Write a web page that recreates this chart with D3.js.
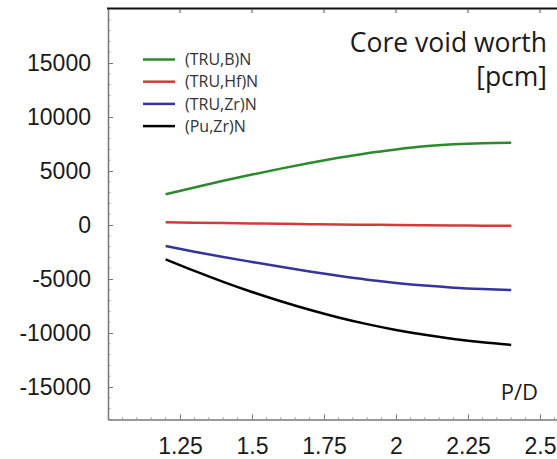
<!DOCTYPE html>
<html lang="en">
<head>
    <meta charset="UTF-8">
    <title>Core void worth vs P/D</title>
    <script src="https://d3js.org/d3.v7.min.js"></script>
    <style>
        body {
            margin: 0;
            overflow: hidden;
            background: #fff;
        }
        svg {
            display: block;
            font-family: "Open Sans", sans-serif;
        }
        .axis text {
            font-size: 23px;
            fill: #1a1a1a;
        }
        .legend text {
            font-size: 16px;
            fill: #333;
        }
        .series {
            fill: none;
            stroke-width: 2.5px;
        }
    </style>
</head>
<body>
<script>
    // P/D values and the four curves
    const pd = [1.2, 1.3, 1.4, 1.5, 1.6, 1.7, 1.8, 1.9, 2.0, 2.1, 2.2, 2.3, 2.4];
    const truB  = [2850, 3480, 4090, 4670, 5220, 5740, 6220, 6650, 7000, 7290, 7470, 7575, 7620];
    const truHf = [250, 215, 180, 145, 110, 80, 50, 25, 0, -20, -40, -60, -80];
    const truZr = [-1950, -2470, -2960, -3420, -3870, -4300, -4700, -5060, -5360, -5610, -5800, -5930, -6020];
    const puZr  = [-3180, -4250, -5260, -6200, -7060, -7850, -8560, -9180, -9720, -10170, -10550, -10860, -11100];

    const seriesNames  = ["(TRU,B)N", "(TRU,Hf)N", "(TRU,Zr)N", "(Pu,Zr)N"];
    const seriesColors = ["#2b8a2b", "#d43a3a", "#34349a", "#000000"];
    const seriesValues = [truB, truHf, truZr, puZr];

    const xTicks = [1.25, 1.5, 1.75, 2, 2.25, 2.5];
    const yTicks = [-15000, -10000, -5000, 0, 5000, 10000, 15000];

    const width = 557;
    const height = 459;

    const svg = d3.select("body")
        .append("svg")
        .attr("width", width)
        .attr("height", height);

    // plot area runs past the right edge of the picture
    const x = d3.scaleLinear().domain([1, 2.6]).range([108, 568.8]);
    const y = d3.scaleLinear().domain([-18000, 20000]).range([419.4, 9]);

    const plotLeft = x(1), plotBottom = y(-18000), plotTop = y(20000);

    // plain hyphen for negatives, like the original
    const fmtY = d => String(d);

    // minor ticks
    const minorX = d3.range(1.05, 2.6, 0.05).filter(v => Math.abs(v * 4 - Math.round(v * 4)) > 1e-6);
    const minorY = d3.range(-18000, 20001, 1000).filter(v => v % 5000 !== 0);

    svg.append("g")
        .selectAll("line")
        .data(minorX)
        .join("line")
        .attr("x1", d => x(d)).attr("x2", d => x(d))
        .attr("y1", plotBottom).attr("y2", plotBottom - 2.5)
        .attr("stroke", "#aaa");

    svg.append("g")
        .selectAll("line")
        .data(minorY)
        .join("line")
        .attr("x1", plotLeft).attr("x2", plotLeft + 2.5)
        .attr("y1", d => y(d)).attr("y2", d => y(d))
        .attr("stroke", "#aaa");

    // bottom axis, ticks pointing inward
    const xAxis = svg.append("g")
        .attr("class", "axis")
        .attr("transform", `translate(0,${plotBottom})`)
        .call(d3.axisBottom(x).tickValues(xTicks).tickSize(-5).tickSizeOuter(0).tickPadding(18)
            .tickFormat(d3.format("")));
    xAxis.select(".domain").attr("stroke", "#777").attr("stroke-width", 1.5);
    xAxis.selectAll(".tick line").attr("stroke", "#777");

    // left axis
    const yAxis = svg.append("g")
        .attr("class", "axis")
        .attr("transform", `translate(${plotLeft},0)`)
        .call(d3.axisLeft(y).tickValues(yTicks).tickSize(-5).tickSizeOuter(0).tickPadding(17)
            .tickFormat(fmtY));
    yAxis.select(".domain").attr("stroke", "#777").attr("stroke-width", 1.5);
    yAxis.selectAll(".tick line").attr("stroke", "#777");

    // top frame line with its own inward ticks
    svg.append("line")
        .attr("x1", plotLeft - 1).attr("x2", width)
        .attr("y1", plotTop - 0.5).attr("y2", plotTop - 0.5)
        .attr("stroke", "#111").attr("stroke-width", 2);

    svg.append("g")
        .selectAll("line")
        .data(xTicks)
        .join("line")
        .attr("x1", d => x(d)).attr("x2", d => x(d))
        .attr("y1", plotTop).attr("y2", plotTop + 4)
        .attr("stroke", "#555");

    // curves
    const line = d3.line()
        .x((d, i) => x(pd[i]))
        .y(d => y(d))
        .curve(d3.curveMonotoneX);

    svg.append("g")
        .selectAll("path")
        .data(seriesValues)
        .join("path")
        .attr("class", "series")
        .attr("stroke", (d, i) => seriesColors[i])
        .attr("d", line);

    // legend
    const legend = svg.append("g")
        .attr("class", "legend")
        .attr("transform", "translate(143,59.5)");

    const item = legend.selectAll("g")
        .data(seriesNames)
        .join("g")
        .attr("transform", (d, i) => `translate(0,${i * 22.2})`);

    item.append("line")
        .attr("x1", 0).attr("x2", 32)
        .attr("stroke", (d, i) => seriesColors[i])
        .attr("stroke-width", 2.5);

    item.append("text")
        .attr("x", 42)
        .attr("dy", "0.35em")
        .text(d => d);

    // labels
    svg.append("text")
        .attr("x", 547).attr("y", 52)
        .attr("text-anchor", "end")
        .attr("font-size", 26.5)
        .attr("fill", "#1a1a1a")
        .text("Core void worth");

    svg.append("text")
        .attr("x", 547).attr("y", 86)
        .attr("text-anchor", "end")
        .attr("font-size", 26.5)
        .attr("fill", "#1a1a1a")
        .text("[pcm]");

    svg.append("text")
        .attr("x", 538).attr("y", 400)
        .attr("text-anchor", "end")
        .attr("font-size", 22)
        .attr("fill", "#1a1a1a")
        .text("P/D");
</script>
</body>
</html>
